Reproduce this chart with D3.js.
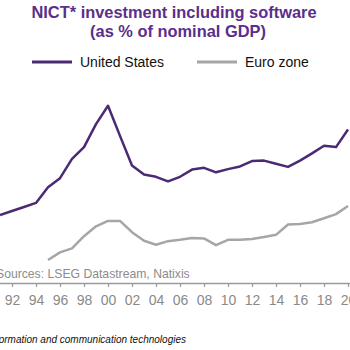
<!DOCTYPE html>
<html>
<head>
<meta charset="utf-8">
<script src="https://cdn.jsdelivr.net/npm/d3@7"></script>
<style>
  body { margin: 0; background: #fff; }
  svg { display: block; font-family: "Liberation Sans", Arial, sans-serif; }
</style>
</head>
<body>
<div id="wrapper"></div>
<script>
// values (% of nominal GDP, estimated)
const years = d3.range(1991, 2021)
const usValues = [2.51, 2.60, 2.69, 2.78, 3.13, 3.33, 3.76, 4.02, 4.53, 4.94,
    4.27, 3.61, 3.41, 3.36, 3.26, 3.36, 3.52, 3.56, 3.46, 3.53,
    3.59, 3.71, 3.72, 3.65, 3.58, 3.72, 3.88, 4.05, 4.02, 4.41]
const euroValues = [null, null, null, null, 1.51, 1.68, 1.77, 2.04, 2.26, 2.38,
    2.38, 2.13, 1.94, 1.85, 1.93, 1.96, 2.00, 1.99, 1.84, 1.96,
    1.96, 1.98, 2.02, 2.07, 2.30, 2.31, 2.35, 2.44, 2.53, 2.71]
const tickYears = d3.range(1990, 2024, 2)
const seriesNames = ["United States", "Euro zone"]
const seriesColors = ["#4b2a74", "#a6a6a6"]

function drawChart() {
    d3.selectAll("svg").remove()
    const dimensions = {width: 350, height: 350, axisY: 283}

    const svg = d3.select("#wrapper")
        .append("svg")
        .attr("width", dimensions.width)
        .attr("height", dimensions.height)

    const xScale = d3.scaleLinear()
        .domain([1991, 2020])
        .range([0, 348])
    const yScale = d3.scaleLinear()
        .domain([1, 5])
        .range([dimensions.axisY, 103])

    // title
    const title = svg.append("text")
        .attr("text-anchor", "middle")
        .attr("fill", "#5b2e8c")
        .attr("font-weight", "bold")
        .attr("font-size", "16.4px")
    title.append("tspan").attr("x", 174).attr("y", 18).text("NICT* investment including software")
    title.append("tspan").attr("x", 178).attr("y", 37).text("(as % of nominal GDP)")

    // legend
    const legendX = [32, 197]
    seriesNames.forEach((name, i) => {
        svg.append("line")
            .attr("x1", legendX[i]).attr("x2", legendX[i] + 40)
            .attr("y1", 62).attr("y2", 62)
            .attr("stroke", seriesColors[i])
            .attr("stroke-width", 3)
        svg.append("text")
            .attr("x", legendX[i] + 48).attr("y", 67)
            .attr("font-size", "14px")
            .attr("fill", "#111")
            .text(name)
    })

    // lines
    const lineGenerator = d3.line()
        .defined(d => d[1] != null)
        .x(d => xScale(d[0]))
        .y(d => yScale(d[1]))
    ;[usValues, euroValues].forEach((values, i) => {
        svg.append("path")
            .datum(years.map((y, j) => [y, values[j]]))
            .attr("fill", "none")
            .attr("stroke", seriesColors[i])
            .attr("stroke-width", 2.5)
            .attr("stroke-linejoin", "round")
            .attr("d", lineGenerator)
    })

    // source
    svg.append("text")
        .attr("x", -4).attr("y", 278)
        .attr("font-size", "12.2px")
        .attr("fill", "#8c8c8c")
        .text("Sources: LSEG Datastream, Natixis")

    // x axis
    const xAxis = svg.append("g")
        .attr("transform", `translate(0, ${dimensions.axisY})`)
        .call(d3.axisBottom(xScale.copy().domain([1990, 2023]).range([xScale(1990), xScale(2023)]))
            .tickValues(tickYears)
            .tickSizeOuter(0)
            .tickSizeInner(4)
            .tickPadding(8)
            .tickFormat(d => String(d).slice(2)))
    xAxis.select(".domain").attr("stroke", "#9a9a9a").attr("stroke-width", 1.5)
    xAxis.selectAll(".tick line").attr("stroke", "#9a9a9a").attr("stroke-width", 1.2)
    xAxis.selectAll(".tick text")
        .attr("font-family", "Liberation Sans, Arial, sans-serif")
        .attr("font-size", "14px")
        .attr("fill", "#8a8a8a")

    // footnote
    svg.append("text")
        .attr("x", 186).attr("y", 343)
        .attr("text-anchor", "end")
        .attr("font-size", "10px")
        .attr("font-style", "italic")
        .attr("fill", "#111")
        .text("*New information and communication technologies")
}

drawChart()
</script>
</body>
</html>
